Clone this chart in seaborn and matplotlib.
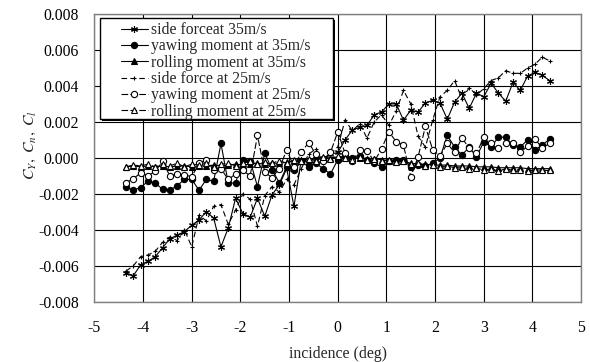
import numpy as np
import matplotlib
matplotlib.use("Agg")
import matplotlib.pyplot as plt
from matplotlib.patches import Rectangle
import seaborn as sns

# incidence angles (deg)
incidence = [-4.35, -4.20, -4.05, -3.90, -3.75, -3.60, -3.45, -3.30, -3.15, -3.00,
             -2.85, -2.70, -2.55, -2.40, -2.25, -2.10, -1.95, -1.80, -1.65, -1.50,
             -1.35, -1.20, -1.05, -0.90, -0.75, -0.60, -0.45, -0.30, -0.15, 0.00,
             0.15, 0.30, 0.45, 0.60, 0.75, 0.90, 1.05, 1.20, 1.35, 1.50,
             1.65, 1.80, 1.95, 2.10, 2.25, 2.40, 2.55, 2.70, 2.85, 3.00,
             3.15, 3.30, 3.45, 3.60, 3.75, 3.90, 4.05, 4.20, 4.35]

# coefficients, in units of 1e-3
side_35 = [-6.4, -6.55, -5.95, -5.75, -5.5, -5.0, -4.5, -4.3, -4.1, -3.75,
           -3.45, -3.0, -3.35, -4.95, -3.9, -2.25, -3.1, -3.3, -2.25, -3.25,
           -2.05, -1.5, -0.6, -2.7, -0.1, -0.3, 0.1, 0.0, 0.2, 0.3,
           1.0, 1.55, 1.7, 1.8, 2.4, 2.55, 3.0, 3.0, 2.1, 2.65,
           2.55, 3.05, 3.2, 3.05, 2.15, 3.1, 3.6, 2.75, 3.6, 3.4,
           4.15, 3.6, 3.15, 4.2, 3.75, 4.55, 4.75, 4.6, 4.3]
yaw_35 = [-1.6, -1.8, -1.65, -1.3, -1.4, -1.75, -1.8, -1.55, -1.2, -1.2,
          -1.8, -1.2, -1.3, 0.8, -1.4, -1.4, -0.1, -0.15, -1.6, 0.25,
          -0.65, -1.4, -0.5, -0.7, -0.2, -0.5, -0.3, -0.6, -0.9, -0.1,
          0.1, 0.0, 0.1, -0.1, -0.3, -0.5, -0.2, -0.1, -0.1, -0.5,
          -0.4, -0.45, -0.3, 0.0, 1.25, 0.6, 0.15, 0.6, 0.05, 0.9,
          0.6, 1.15, 1.15, 0.7, 0.6, 1.0, 0.45, 0.7, 1.05]
roll_35 = [-0.5, -0.45, -0.5, -0.45, -0.5, -0.45, -0.5, -0.45, -0.45, -0.5,
           -0.45, -0.45, -0.4, -0.45, -0.4, -0.35, -0.4, -0.35, -0.3, -0.35,
           -0.3, -0.3, -0.25, -0.2, -0.2, -0.15, -0.1, -0.05, 0.0, 0.05,
           0.05, 0.0, 0.0, -0.05, -0.05, -0.1, -0.15, -0.15, -0.2, -0.3,
           -0.35, -0.35, -0.4, -0.4, -0.4, -0.45, -0.45, -0.45, -0.5, -0.5,
           -0.5, -0.55, -0.55, -0.55, -0.55, -0.6, -0.6, -0.6, -0.6]
side_25 = [-6.3, -6.0, -5.5, -5.4, -5.2, -4.7, -4.4, -4.6, -4.0, -4.95,
           -3.2, -3.5, -2.7, -2.6, -3.7, -2.9, -2.0, -2.3, -3.8, -2.1,
           -1.6, -1.9, -1.2, -1.5, -0.6, 0.2, 0.5, -0.3, 0.2, 0.6,
           2.1, 1.5, 1.9, 1.1, 2.0, 2.4, 1.8, 2.6, 3.75, 3.0,
           1.2, 0.6, 2.1, 3.4, 3.75, 4.3, 3.3, 3.9, 3.5, 3.85,
           4.3, 4.45, 4.85, 4.7, 4.7, 5.0, 5.2, 5.6, 5.4]
yaw_25 = [-1.4, -1.15, -0.85, -1.0, -0.75, -0.2, -1.0, -0.9, -0.95, -1.05,
          -0.3, -0.1, -0.7, -0.6, -1.2, -0.9, -0.7, -1.0, 1.25, -0.8,
          -1.1, -0.6, 0.45, -0.5, 0.3, 0.85, 0.2, -0.2, 0.3, 1.45,
          0.25, -0.2, 0.45, 0.4, -0.2, 0.5, 1.45, 0.9, 0.7, -1.05,
          0.05, 1.75, 0.45, 0.1, 0.8, 0.3, 1.1, 0.55, 0.25, 1.15,
          0.85, 0.55, 0.85, 0.8, 0.3, 0.65, 1.05, 0.55, 0.8]
roll_25 = [-0.5, -0.4, -0.45, -0.35, -0.5, -0.35, -0.45, -0.3, -0.5, -0.35,
           -0.4, -0.3, -0.5, -0.35, -0.3, -0.45, -0.3, -0.2, -0.35, -0.25,
           -0.3, -0.15, -0.3, -0.1, -0.15, -0.05, -0.15, 0.05, -0.05, 0.1,
           0.0, -0.1, 0.05, -0.1, -0.05, -0.2, -0.1, -0.25, -0.15, -0.35,
           -0.3, -0.45, -0.4, -0.5, -0.45, -0.55, -0.5, -0.6, -0.55, -0.7,
           -0.6, -0.75, -0.6, -0.7, -0.65, -0.75, -0.65, -0.7, -0.7]

labels = ["side forceat 35m/s", "yawing moment at 35m/s", "rolling moment at 35m/s",
          "side force at 25m/s", "yawing moment at 25m/s", "rolling moment at 25m/s"]

sns.set_theme(style="white")
plt.rcParams['font.family'] = ['Liberation Serif', 'DejaVu Serif']
plt.rcParams['mathtext.fontset'] = 'stix'
plt.rcParams['axes.unicode_minus'] = False
FS = 11.3

fig = plt.figure(figsize=(5.9, 3.62), dpi=100)
ax = fig.add_axes([0.160, 0.1666, 0.825, 0.7947])

x = np.array(incidence)
series = [
    (side_35, dict(marker=(6, 2, 0), markersize=5, linestyle='-')),
    (yaw_35, dict(marker='o', markersize=4.5, markerfacecolor='black', linestyle='-')),
    (roll_35, dict(marker='^', markersize=4.5, markerfacecolor='black', linestyle='-')),
    (side_25, dict(marker='+', markersize=3.5, linestyle=(0, (5, 3)))),
    (yaw_25, dict(marker='o', markersize=4.5, markerfacecolor='white', linestyle=(0, (6, 2)))),
    (roll_25, dict(marker='^', markersize=4.5, markerfacecolor='white', linestyle=(0, (6, 2)))),
]
for (vals, style), lab in zip(series, labels):
    sns.lineplot(x=x, y=np.array(vals) * 1e-3, ax=ax, color='black', linewidth=0.8,
                 markeredgecolor='black', markeredgewidth=0.8, label=lab, sort=False, **style)

ax.set_xlim(-5, 5)
ax.set_ylim(-0.008, 0.008)
ax.set_xticks(range(-5, 6))
ax.set_yticks(np.arange(-0.008, 0.0081, 0.002))
ax.yaxis.set_major_formatter(matplotlib.ticker.FormatStrFormatter('%.3f'))
ax.tick_params(length=0, labelsize=FS, colors='black')
ax.tick_params(axis='y', pad=11)
ax.tick_params(axis='x', pad=13)
ax.grid(True, color='black', linewidth=0.8)
for sp in ax.spines.values():
    sp.set_color('#808080')
    sp.set_linewidth(1.0)

ax.set_xlabel('incidence (deg)', fontsize=FS)
ax.xaxis.set_label_coords(0.5, -0.154)
ax.set_ylabel(r'$C_Y,\ C_n,\ C_l$', fontsize=FS)
ax.yaxis.set_label_coords(-0.116, 0.545)

# legend box with a small drop shadow, like the spreadsheet original
box = dict(transform=ax.transAxes, zorder=4.5)
ax.add_patch(Rectangle((0.0154, 0.628), 0.479, 0.351, facecolor='black', edgecolor='none', **box))
ax.add_patch(Rectangle((0.0113, 0.635), 0.479, 0.351, facecolor='white', edgecolor='black',
                       linewidth=1.0, **box))
leg = ax.legend(loc='upper left', bbox_to_anchor=(0.054, 0.972), borderaxespad=0,
                fontsize=FS, frameon=False, labelspacing=0.02, handlelength=1.75,
                handletextpad=0.2, borderpad=0)
leg.set_zorder(5)

fig.savefig('out.png', dpi=100)
